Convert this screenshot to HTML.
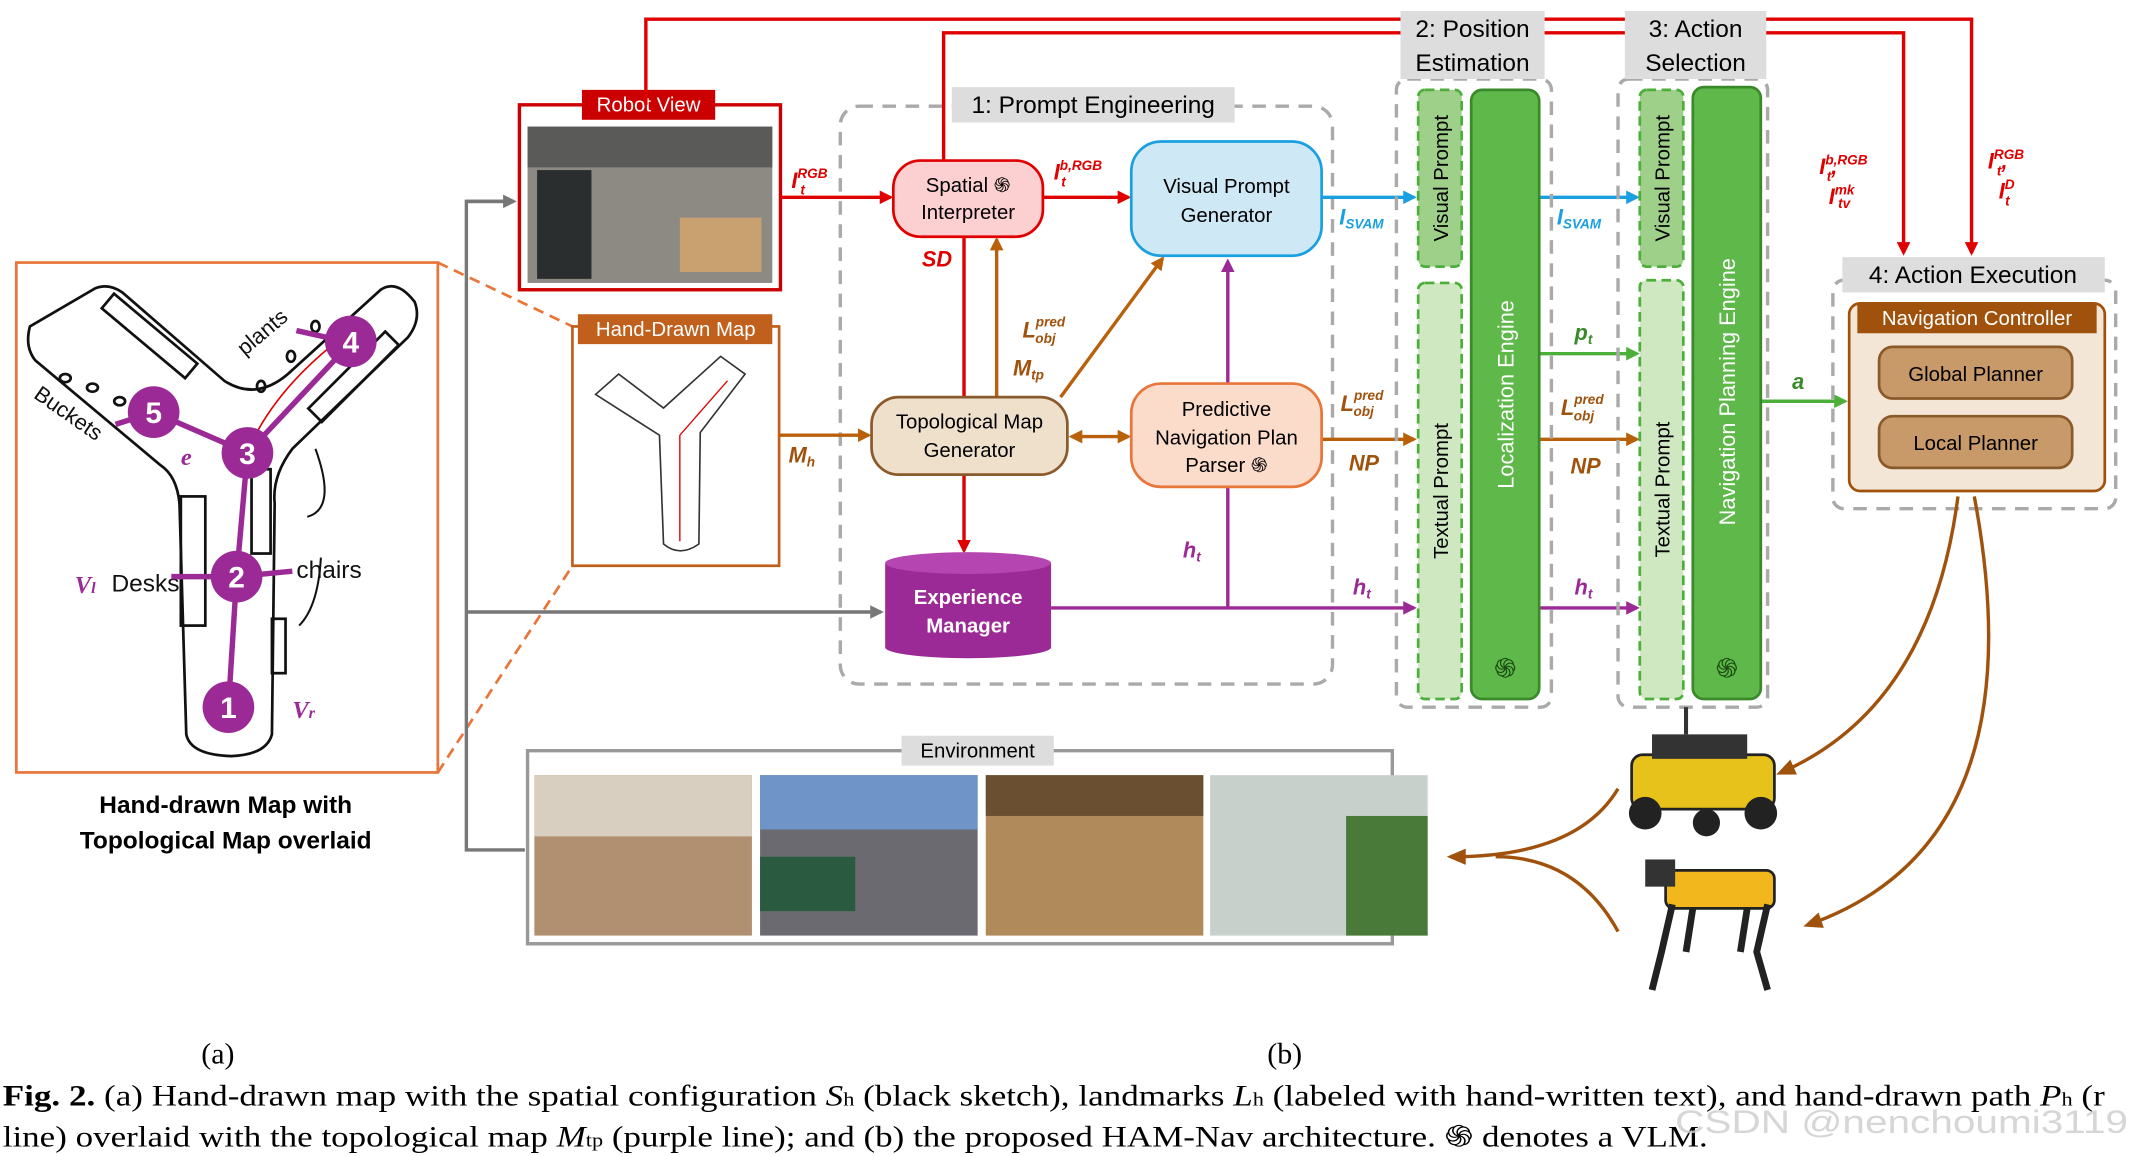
<!DOCTYPE html>
<html><head><meta charset="utf-8"><style>
html,body{margin:0;padding:0;background:#fff;}
svg{display:block;}
text{font-family:"Liberation Sans",sans-serif;}
.m{font-family:"Liberation Serif",serif;font-style:italic;font-weight:bold;}
.s{font-family:"Liberation Serif",serif;}
</style></head><body>
<svg width="2132" height="1156" viewBox="0 0 1568 850" xmlns="http://www.w3.org/2000/svg">
<defs>
<marker id="ar" markerWidth="10" markerHeight="10" refX="8" refY="5" orient="auto" markerUnits="userSpaceOnUse"><path d="M0,0 L10,5 L0,10 z" fill="#e00000"/></marker>
<marker id="ab" markerWidth="10" markerHeight="10" refX="8" refY="5" orient="auto" markerUnits="userSpaceOnUse"><path d="M0,0 L10,5 L0,10 z" fill="#b8600a"/></marker>
<marker id="abs" markerWidth="10" markerHeight="10" refX="2" refY="5" orient="auto" markerUnits="userSpaceOnUse"><path d="M10,0 L0,5 L10,10 z" fill="#b8600a"/></marker>
<marker id="ap" markerWidth="10" markerHeight="10" refX="8" refY="5" orient="auto" markerUnits="userSpaceOnUse"><path d="M0,0 L10,5 L0,10 z" fill="#9b2a96"/></marker>
<marker id="abl" markerWidth="10" markerHeight="10" refX="8" refY="5" orient="auto" markerUnits="userSpaceOnUse"><path d="M0,0 L10,5 L0,10 z" fill="#1aa0e0"/></marker>
<marker id="ag" markerWidth="10" markerHeight="10" refX="8" refY="5" orient="auto" markerUnits="userSpaceOnUse"><path d="M0,0 L10,5 L0,10 z" fill="#4caf3a"/></marker>
<marker id="agr" markerWidth="10" markerHeight="10" refX="8" refY="5" orient="auto" markerUnits="userSpaceOnUse"><path d="M0,0 L10,5 L0,10 z" fill="#777"/></marker>
<marker id="abr" markerWidth="14" markerHeight="12" refX="10" refY="6" orient="auto" markerUnits="userSpaceOnUse"><path d="M0,0 L14,6 L0,12 z" fill="#a0520c"/></marker>
</defs>

<!-- left map -->
<rect x="12" y="193" width="310" height="375" fill="#fff" stroke="#e8763a" stroke-width="2"/>
<g fill="none" stroke="#111" stroke-width="2">
<path d="M22,240 L70,212 Q80,208 90,215 L165,280 Q190,296 215,272 L280,213 Q292,205 305,222 Q310,235 300,248 L215,330 Q200,350 202,370 L200,540 Q196,555 170,556 Q140,555 137,540 L132,370 Q130,350 118,342 L26,265 Q18,255 22,240 Z"/>
<rect x="70" y="240" width="80" height="14" transform="rotate(40 110 247)"/>
<rect x="220" y="270" width="80" height="14" transform="rotate(-45 260 277)"/>
<rect x="133" y="365" width="18" height="95"/>
<rect x="185" y="345" width="14" height="62"/>
<rect x="200" y="455" width="10" height="40"/>
</g>
<g fill="none" stroke="#111" stroke-width="2">
<ellipse cx="48" cy="278" rx="4" ry="3"/><ellipse cx="68" cy="285" rx="4" ry="3"/><ellipse cx="88" cy="295" rx="4" ry="3"/>
<ellipse cx="192" cy="284" rx="3" ry="4"/><ellipse cx="214" cy="262" rx="3" ry="4"/><ellipse cx="232" cy="240" rx="3" ry="4"/>
</g>
<text x="24" y="292" font-size="16" transform="rotate(35 24 292)" fill="#111">Buckets</text>
<text x="180" y="262" font-size="16" transform="rotate(-40 180 262)" fill="#111">plants</text>
<text x="82" y="435" font-size="18" fill="#111">Desks</text>
<text x="218" y="425" font-size="18" fill="#111">chairs</text>
<path d="M232,330 Q248,374 226,380 M236,410 Q234,446 220,460" fill="none" stroke="#111" stroke-width="1.5"/>
<path d="M168,513 L173,424 L182,332 Q200,290 244,254" fill="none" stroke="#e00000" stroke-width="1.2"/>
<g stroke="#9b2a96" stroke-width="4" fill="none">
<path d="M168,520 L174,424 L182,333 L258,252 M182,333 L113,303 L85,312 M174,424 L126,424 M174,424 L215,420 M258,252 L218,243"/>
</g>
<g fill="#9b2a96"><circle cx="168" cy="520" r="19"/><circle cx="174" cy="424" r="19"/><circle cx="182" cy="333" r="19"/><circle cx="258" cy="251" r="19"/><circle cx="113" cy="303" r="19"/></g>
<g fill="#fff" font-size="22" font-weight="bold" text-anchor="middle"><text x="168" y="528">1</text><text x="174" y="432">2</text><text x="182" y="341">3</text><text x="258" y="259">4</text><text x="113" y="311">5</text></g>
<text x="55" y="436" class="m" font-size="18" fill="#9b2a96">V<tspan font-size="12">l</tspan></text>
<text x="215" y="528" class="m" font-size="18" fill="#9b2a96">V<tspan font-size="12">r</tspan></text>
<text x="133" y="342" class="m" font-size="18" fill="#9b2a96">e</text>
<text x="166" y="598" font-size="18" font-weight="bold" text-anchor="middle">Hand-drawn Map with</text>
<text x="166" y="624" font-size="18" font-weight="bold" text-anchor="middle">Topological Map overlaid</text>
<line x1="322" y1="193" x2="421" y2="240" stroke="#e8763a" stroke-width="2" stroke-dasharray="8,5"/>
<line x1="322" y1="568" x2="421" y2="416" stroke="#e8763a" stroke-width="2" stroke-dasharray="8,5"/>

<!-- gray trunk -->
<g stroke="#777" stroke-width="2.5" fill="none">
<path d="M372,148 L343,148 L343,625 L386,625"/>
<line x1="343" y1="450" x2="648" y2="450" marker-end="url(#agr)"/>
<line x1="343" y1="148" x2="378" y2="148" marker-end="url(#agr)"/>
</g>

<!-- robot view -->
<rect x="382" y="77" width="192" height="136" fill="#fff" stroke="#cc0000" stroke-width="2.5"/>
<rect x="388" y="93" width="180" height="115" fill="#8d8a84"/>
<rect x="388" y="93" width="180" height="30" fill="#5a5a58"/>
<rect x="395" y="125" width="40" height="80" fill="#2a2e2e"/>
<rect x="500" y="160" width="60" height="40" fill="#c9a070"/>
<rect x="428" y="66" width="98" height="22" fill="#cc0000"/>
<text x="477" y="82" font-size="15" fill="#fff" text-anchor="middle">Robot View</text>

<!-- hand-drawn map -->
<rect x="421" y="240" width="152" height="176" fill="#fff" stroke="#c0601c" stroke-width="2"/>
<path d="M438,290 L455,275 L488,300 L530,262 L548,275 L515,318 L514,400 Q500,410 488,400 L485,320 Z" fill="none" stroke="#333" stroke-width="1.2"/>
<path d="M500,398 L500,320 L535,280" fill="none" stroke="#e00000" stroke-width="1"/>
<rect x="425" y="231" width="143" height="22" fill="#c0601c"/>
<text x="497" y="247" font-size="15" fill="#fff" text-anchor="middle">Hand-Drawn Map</text>

<!-- prompt engineering box -->
<rect x="618" y="78" width="362" height="425" rx="14" fill="none" stroke="#aaa" stroke-width="2.5" stroke-dasharray="10,7"/>
<rect x="700" y="64" width="208" height="26" fill="#ddd"/>
<text x="804" y="83" font-size="18" text-anchor="middle">1: Prompt Engineering</text>

<!-- red top lines -->
<g stroke="#e00000" stroke-width="2.5" fill="none">
<path d="M475,77 L475,14 L1450,14 L1450,186" marker-end="url(#ar)"/>
<path d="M694,118 L694,24 L1400,24 L1400,186" marker-end="url(#ar)"/>
<line x1="574" y1="145" x2="655" y2="145" marker-end="url(#ar)"/>
<line x1="767" y1="145" x2="830" y2="145" marker-end="url(#ar)"/>
<line x1="709" y1="292" x2="709" y2="174"/>
<line x1="709" y1="349" x2="709" y2="405" marker-end="url(#ar)"/>
</g>
<!-- brown lines -->
<g stroke="#b8600a" stroke-width="2.5" fill="none">
<line x1="733" y1="292" x2="733" y2="176" marker-end="url(#ab)"/>
<line x1="780" y1="292" x2="855" y2="190" marker-end="url(#ab)"/>
<line x1="788" y1="321" x2="830" y2="321" marker-end="url(#ab)" marker-start="url(#abs)"/>
<line x1="573" y1="320" x2="639" y2="320" marker-end="url(#ab)"/>
<line x1="972" y1="323" x2="1040" y2="323" marker-end="url(#ab)"/>
<line x1="1132" y1="323" x2="1204" y2="323" marker-end="url(#ab)"/>
</g>
<!-- purple -->
<g stroke="#9b2a96" stroke-width="2.5" fill="none">
<line x1="773" y1="447" x2="1040" y2="447" marker-end="url(#ap)"/>
<line x1="903" y1="447" x2="903" y2="358"/>
<line x1="903" y1="282" x2="903" y2="192" marker-end="url(#ap)"/>
<line x1="1132" y1="447" x2="1204" y2="447" marker-end="url(#ap)"/>
</g>
<!-- blue -->
<g stroke="#1aa0e0" stroke-width="2.5">
<line x1="972" y1="145" x2="1040" y2="145" marker-end="url(#abl)"/>
<line x1="1132" y1="145" x2="1204" y2="145" marker-end="url(#abl)"/>
</g>
<g stroke="#4caf3a" stroke-width="2.5">
<line x1="1132" y1="260" x2="1204" y2="260" marker-end="url(#ag)"/>
<line x1="1295" y1="295" x2="1357" y2="295" marker-end="url(#ag)"/>
</g>

<!-- nodes -->
<rect x="657" y="118" width="110" height="56" rx="20" fill="#fcd0d0" stroke="#e00000" stroke-width="2"/>
<text x="712" y="141" font-size="15" text-anchor="middle">Spatial ֍</text>
<text x="712" y="161" font-size="15" text-anchor="middle">Interpreter</text>
<rect x="832" y="104" width="140" height="84" rx="22" fill="#cfe8f6" stroke="#1aa0e0" stroke-width="2"/>
<text x="902" y="142" font-size="15" text-anchor="middle">Visual Prompt</text>
<text x="902" y="163" font-size="15" text-anchor="middle">Generator</text>
<rect x="641" y="292" width="144" height="57" rx="20" fill="#efe0cc" stroke="#8a5a2a" stroke-width="2"/>
<text x="713" y="315" font-size="15" text-anchor="middle">Topological Map</text>
<text x="713" y="336" font-size="15" text-anchor="middle">Generator</text>
<rect x="832" y="282" width="140" height="76" rx="22" fill="#fbdccb" stroke="#e8763a" stroke-width="2"/>
<text x="902" y="306" font-size="15" text-anchor="middle">Predictive</text>
<text x="902" y="327" font-size="15" text-anchor="middle">Navigation Plan</text>
<text x="902" y="347" font-size="15" text-anchor="middle">Parser ֍</text>
<path d="M651,414 L651,476 A61,8 0 0 0 773,476 L773,414 Z" fill="#9b2a96"/>
<ellipse cx="712" cy="414" rx="61" ry="8" fill="#b545b0"/>
<text x="712" y="444" font-size="15" font-weight="bold" fill="#fff" text-anchor="middle">Experience</text>
<text x="712" y="465" font-size="15" font-weight="bold" fill="#fff" text-anchor="middle">Manager</text>

<!-- labels math -->
<g class="m" font-size="16">
<text x="582" y="138" fill="#e00000">I<tspan font-size="10" dy="-7">RGB</tspan><tspan font-size="10" dx="-20" dy="12">t</tspan></text>
<text x="775" y="132" fill="#e00000">I<tspan font-size="10" dy="-7">b,RGB</tspan><tspan font-size="10" dx="-30" dy="12">t</tspan></text>
<text x="678" y="196" fill="#e00000">SD</text>
<text x="752" y="248" fill="#a0520c">L<tspan font-size="10" dy="-8">pred</tspan><tspan font-size="10" dx="-22" dy="12">obj</tspan></text>
<text x="745" y="276" fill="#a0520c">M<tspan font-size="10" dy="3">tp</tspan></text>
<text x="580" y="340" fill="#a0520c">M<tspan font-size="10" dy="3">h</tspan></text>
<text x="986" y="302" fill="#a0520c">L<tspan font-size="10" dy="-8">pred</tspan><tspan font-size="10" dx="-22" dy="12">obj</tspan></text>
<text x="992" y="346" fill="#a0520c">NP</text>
<text x="1148" y="305" fill="#a0520c">L<tspan font-size="10" dy="-8">pred</tspan><tspan font-size="10" dx="-22" dy="12">obj</tspan></text>
<text x="1155" y="348" fill="#a0520c">NP</text>
<text x="985" y="165" fill="#1aa0e0">I<tspan font-size="10" dy="3">SVAM</tspan></text>
<text x="1145" y="165" fill="#1aa0e0">I<tspan font-size="10" dy="3">SVAM</tspan></text>
<text x="1158" y="250" fill="#3a8a2a">p<tspan font-size="10" dy="3">t</tspan></text>
<text x="1318" y="286" fill="#3a8a2a">a</text>
<text x="870" y="410" fill="#9b2a96">h<tspan font-size="10" dy="3">t</tspan></text>
<text x="995" y="437" fill="#9b2a96">h<tspan font-size="10" dy="3">t</tspan></text>
<text x="1158" y="437" fill="#9b2a96">h<tspan font-size="10" dy="3">t</tspan></text>
<text x="1338" y="128" fill="#e00000">I<tspan font-size="10" dy="-7">b,RGB</tspan><tspan font-size="10" dx="-30" dy="12">t</tspan><tspan dy="-5">,</tspan></text>
<text x="1345" y="150" fill="#e00000">I<tspan font-size="10" dy="-7">mk</tspan><tspan font-size="10" dx="-12" dy="10">tv</tspan></text>
<text x="1462" y="124" fill="#e00000">I<tspan font-size="10" dy="-7">RGB</tspan><tspan font-size="10" dx="-20" dy="12">t</tspan><tspan dy="-5">,</tspan></text>
<text x="1470" y="146" fill="#e00000">I<tspan font-size="10" dy="-7">D</tspan><tspan font-size="10" dx="-7" dy="12">t</tspan></text>
</g>

<!-- position estimation -->
<rect x="1027" y="58" width="114" height="462" rx="8" fill="none" stroke="#aaa" stroke-width="2.5" stroke-dasharray="10,7"/>
<rect x="1030" y="8" width="106" height="50" fill="#ddd"/>
<text x="1083" y="27" font-size="18" text-anchor="middle">2: Position</text>
<text x="1083" y="52" font-size="18" text-anchor="middle">Estimation</text>
<rect x="1043" y="66" width="32" height="130" rx="5" fill="#9ed08a" stroke="#4caf3a" stroke-width="2" stroke-dasharray="7,4"/>
<rect x="1043" y="208" width="32" height="306" rx="5" fill="#cfe8c2" stroke="#4caf3a" stroke-width="2" stroke-dasharray="7,4"/>
<rect x="1082" y="66" width="50" height="448" rx="8" fill="#5fb84a" stroke="#3a8a2a" stroke-width="2"/>
<text transform="translate(1065 131) rotate(-90)" font-size="15" text-anchor="middle">Visual Prompt</text>
<text transform="translate(1065 361) rotate(-90)" font-size="15" text-anchor="middle">Textual Prompt</text>
<text transform="translate(1113 290) rotate(-90)" font-size="16" fill="#fff" text-anchor="middle">Localization Engine</text>
<text x="1107" y="498" font-size="20" text-anchor="middle" fill="#1a4a10">֍</text>

<!-- action selection -->
<rect x="1190" y="58" width="110" height="462" rx="8" fill="none" stroke="#aaa" stroke-width="2.5" stroke-dasharray="10,7"/>
<rect x="1195" y="8" width="104" height="50" fill="#ddd"/>
<text x="1247" y="27" font-size="18" text-anchor="middle">3: Action</text>
<text x="1247" y="52" font-size="18" text-anchor="middle">Selection</text>
<rect x="1206" y="66" width="32" height="130" rx="5" fill="#9ed08a" stroke="#4caf3a" stroke-width="2" stroke-dasharray="7,4"/>
<rect x="1206" y="206" width="32" height="308" rx="5" fill="#cfe8c2" stroke="#4caf3a" stroke-width="2" stroke-dasharray="7,4"/>
<rect x="1245" y="64" width="50" height="450" rx="8" fill="#5fb84a" stroke="#3a8a2a" stroke-width="2"/>
<text transform="translate(1228 131) rotate(-90)" font-size="15" text-anchor="middle">Visual Prompt</text>
<text transform="translate(1228 360) rotate(-90)" font-size="15" text-anchor="middle">Textual Prompt</text>
<text transform="translate(1276 288) rotate(-90)" font-size="16" fill="#fff" text-anchor="middle">Navigation Planning Engine</text>
<text x="1270" y="498" font-size="20" text-anchor="middle" fill="#1a4a10">֍</text>

<!-- action execution -->
<rect x="1348" y="206" width="208" height="168" rx="8" fill="none" stroke="#aaa" stroke-width="2.5" stroke-dasharray="10,7"/>
<rect x="1355" y="189" width="193" height="26" fill="#ddd"/>
<text x="1451" y="208" font-size="18" text-anchor="middle">4: Action Execution</text>
<rect x="1360" y="223" width="188" height="138" rx="8" fill="#f3e6d6" stroke="#a0520c" stroke-width="2"/>
<rect x="1366" y="223" width="176" height="22" fill="#a0520c"/>
<text x="1454" y="239" font-size="15" fill="#fff" text-anchor="middle">Navigation Controller</text>
<rect x="1382" y="255" width="142" height="38" rx="10" fill="#c89a6a" stroke="#8a5a2a" stroke-width="2"/>
<text x="1453" y="280" font-size="15" text-anchor="middle">Global Planner</text>
<rect x="1382" y="306" width="142" height="38" rx="10" fill="#c89a6a" stroke="#8a5a2a" stroke-width="2"/>
<text x="1453" y="331" font-size="15" text-anchor="middle">Local Planner</text>

<!-- brown curves -->
<g stroke="#a0520c" stroke-width="2.5" fill="none">
<path d="M1440,365 Q1420,520 1310,568" marker-end="url(#abr)"/>
<path d="M1452,365 Q1500,620 1330,680" marker-end="url(#abr)"/>
<path d="M1190,580 Q1160,630 1068,630" marker-end="url(#abr)"/>
<path d="M1190,685 Q1160,630 1100,630"/>
</g>

<!-- robots -->
<rect x="1200" y="555" width="105" height="40" rx="8" fill="#e6c21a" stroke="#222" stroke-width="2"/>
<rect x="1215" y="540" width="70" height="18" fill="#333"/>
<circle cx="1210" cy="598" r="12" fill="#222"/><circle cx="1295" cy="598" r="12" fill="#222"/><circle cx="1255" cy="605" r="10" fill="#222"/>
<line x1="1240" y1="540" x2="1240" y2="520" stroke="#333" stroke-width="3"/>
<rect x="1225" y="640" width="80" height="28" rx="6" fill="#f2b71c" stroke="#222" stroke-width="2"/>
<rect x="1210" y="632" width="22" height="20" fill="#333"/>
<path d="M1230,665 L1222,700 L1215,728 M1300,665 L1292,700 L1300,728 M1245,668 L1240,700 M1285,668 L1280,700" stroke="#222" stroke-width="5" fill="none"/>

<!-- environment -->
<rect x="388" y="552" width="636" height="142" fill="#fff" stroke="#999" stroke-width="2.5"/>
<rect x="393" y="570" width="160" height="118" fill="#b09070"/>
<rect x="393" y="570" width="160" height="45" fill="#d8cfc0"/>
<rect x="559" y="570" width="160" height="118" fill="#6a6a70"/>
<rect x="559" y="570" width="160" height="40" fill="#6f95c8"/>
<rect x="559" y="630" width="70" height="40" fill="#2a5a40"/>
<rect x="725" y="570" width="160" height="118" fill="#b08a5a"/>
<rect x="725" y="570" width="160" height="30" fill="#6a5030"/>
<rect x="890" y="570" width="160" height="118" fill="#c8d0cc"/>
<rect x="990" y="600" width="60" height="88" fill="#4a7a3a"/>
<rect x="663" y="541" width="112" height="22" fill="#ddd"/>
<text x="719" y="557" font-size="15" text-anchor="middle">Environment</text>

<!-- caption -->
<text x="148" y="782" class="s" font-size="22">(a)</text>
<text x="932" y="782" class="s" font-size="22">(b)</text>
<text x="2" y="813" class="s" font-size="22" textLength="1546" lengthAdjust="spacingAndGlyphs"><tspan font-weight="bold">Fig. 2.</tspan> (a) Hand-drawn map with the spatial configuration <tspan font-style="italic">S</tspan><tspan font-size="14">h</tspan> (black sketch), landmarks <tspan font-style="italic">L</tspan><tspan font-size="14">h</tspan> (labeled with hand-written text), and hand-drawn path <tspan font-style="italic">P</tspan><tspan font-size="14">h</tspan> (r</text>
<text x="2" y="843" class="s" font-size="22" textLength="1254" lengthAdjust="spacingAndGlyphs">line) overlaid with the topological map <tspan font-style="italic">M</tspan><tspan font-size="14">tp</tspan> (purple line); and (b) the proposed HAM-Nav architecture. ֍ denotes a VLM.</text>
<text x="1232" y="833" font-size="24" fill="#ccc" opacity="0.8" textLength="333" lengthAdjust="spacingAndGlyphs">CSDN @nenchoumi3119</text>
</svg>
</body></html>
